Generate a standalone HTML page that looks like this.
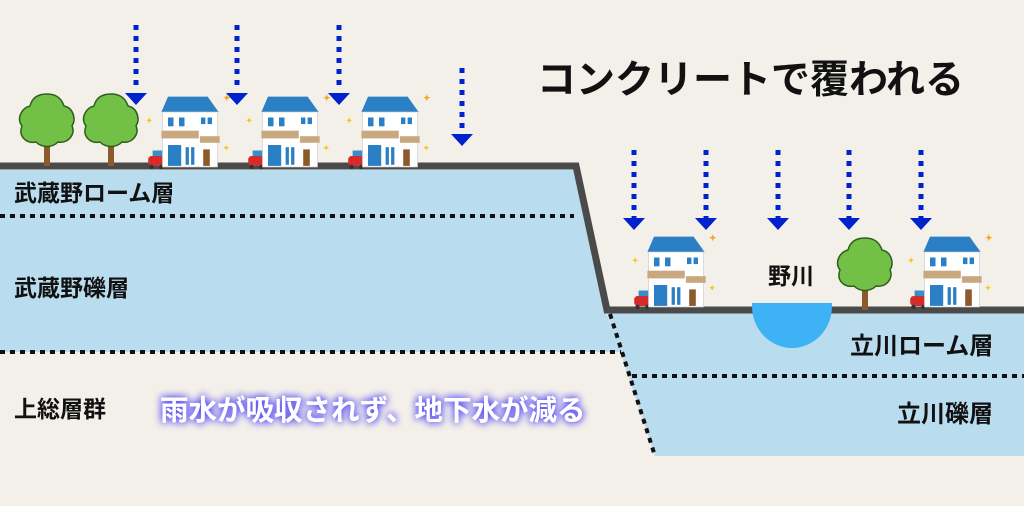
<!DOCTYPE html>
<html><head><meta charset="utf-8"><style>
body{margin:0;background:#f3f0ea;}
svg{display:block}
text{font-family:"Liberation Sans","Noto Sans CJK JP",sans-serif;font-weight:bold}
</style></head><body>
<svg width="1024" height="506" viewBox="0 0 1024 506" xmlns="http://www.w3.org/2000/svg">
<defs>
<filter id="glow" x="-20%" y="-60%" width="140%" height="220%"><feGaussianBlur in="SourceAlpha" stdDeviation="4" result="b"/><feFlood flood-color="#5a4cf5"/><feComposite in2="b" operator="in" result="c"/><feMerge><feMergeNode in="c"/><feMergeNode in="c"/><feMergeNode in="SourceGraphic"/></feMerge></filter>
<g id="house">
<rect x="6" y="55" width="16" height="14" fill="#3a8ec8"/>
<rect x="2" y="60" width="14" height="9" rx="3" fill="#d62b2b"/>
<circle cx="5" cy="70" r="2" fill="#333"/><circle cx="14" cy="70" r="2" fill="#333"/>
<polygon points="14,20 20,6 56,6 66,20" fill="#2b7fc4"/>
<rect x="15" y="20" width="50" height="50" fill="#fff" stroke="#ccc" stroke-width="0.6"/>
<rect x="20" y="25" width="5" height="8" fill="#2b7fc4"/><rect x="30" y="25" width="5" height="8" fill="#2b7fc4"/><rect x="50" y="25" width="4" height="6" fill="#2b7fc4"/><rect x="56" y="25" width="4" height="6" fill="#2b7fc4"/>
<rect x="14" y="37" width="34" height="7" fill="#c9a880"/><rect x="49" y="42" width="18" height="6" fill="#c9a880"/>
<rect x="20" y="50" width="12" height="19" fill="#2b7fc4"/><rect x="36" y="52" width="3" height="16" fill="#2b7fc4"/><rect x="41" y="52" width="3" height="16" fill="#2b7fc4"/>
<rect x="52" y="54" width="6" height="15" fill="#8b5a2b"/>
<text x="70" y="10" font-size="8" fill="#f5a623">✦</text><text x="0" y="30" font-size="7" fill="#f5c518">✦</text><text x="70" y="55" font-size="7" fill="#f5c518">✦</text>
</g>
<g id="tree">
<rect x="26" y="40" width="6" height="34" fill="#8b5a2b"/>
<path d="M29 55 L18 44 M29 52 L40 42" stroke="#8b5a2b" stroke-width="3"/>
<path d="M29 2 C40 2 44 8 46 14 C56 16 58 28 54 34 C58 42 50 52 40 50 C34 56 24 56 18 50 C8 52 0 44 4 34 C-2 26 4 16 12 14 C14 6 20 2 29 2Z" fill="#72c045" stroke="#2e5e1e" stroke-width="1.5"/>
</g>
<g id="arrowhead"><polygon points="-11,0 11,0 0,12" fill="#0022cc"/></g>
</defs>

<polygon points="0,170 577,170 606,312 621,352 0,352" fill="#b9dcee"/>
<polygon points="607,312 1024,312 1024,456 655,456" fill="#b9dcee"/>
<polyline points="0,166 576,166 607,310 1024,310" fill="none" stroke="#4a4a4a" stroke-width="7"/>
<path d="M752 306 A40 42 0 0 0 832 306 Z" fill="#3db3f5"/>
<rect x="752" y="303" width="80" height="4" fill="#3db3f5"/>
<g stroke="#111" stroke-width="4" stroke-dasharray="5,5" fill="none">
<line x1="0" y1="216" x2="574" y2="216"/>
<line x1="0" y1="352" x2="621" y2="352"/>
<line x1="610" y1="314" x2="655" y2="456"/>
<line x1="632" y1="376" x2="1024" y2="376"/>
</g>
<g stroke="#0022cc" stroke-width="5" stroke-dasharray="5,6">
<line x1="136" y1="25" x2="136" y2="90"/>
<line x1="237" y1="25" x2="237" y2="90"/>
<line x1="339" y1="25" x2="339" y2="90"/>
<line x1="462" y1="68" x2="462" y2="135"/>
<line x1="634" y1="150" x2="634" y2="218"/>
<line x1="706" y1="150" x2="706" y2="218"/>
<line x1="778" y1="150" x2="778" y2="218"/>
<line x1="849" y1="150" x2="849" y2="218"/>
<line x1="921" y1="150" x2="921" y2="218"/>
</g>
<use href="#arrowhead" x="136" y="93"/><use href="#arrowhead" x="237" y="93"/><use href="#arrowhead" x="339" y="93"/><use href="#arrowhead" x="462" y="134"/>
<use href="#arrowhead" x="634" y="218"/><use href="#arrowhead" x="706" y="218"/><use href="#arrowhead" x="778" y="218"/><use href="#arrowhead" x="849" y="218"/><use href="#arrowhead" x="921" y="218"/>
<use href="#tree" x="18" y="92"/><use href="#tree" x="82" y="92"/>
<g transform="translate(146,90) scale(1.1)"><use href="#house"/></g>
<g transform="translate(246,90) scale(1.1)"><use href="#house"/></g>
<g transform="translate(346,90) scale(1.1)"><use href="#house"/></g>
<g transform="translate(632,230) scale(1.1)"><use href="#house"/></g>
<g transform="translate(908,230) scale(1.1)"><use href="#house"/></g>
<use href="#tree" x="836" y="236"/>
<text x="537" y="93" font-size="39" fill="#111">コンクリートで覆われる</text>
<text x="14" y="201" font-size="23" fill="#111">武蔵野ローム層</text>
<text x="14" y="296" font-size="23" fill="#111">武蔵野礫層</text>
<text x="14" y="417" font-size="23" fill="#111">上総層群</text>
<text x="160" y="420" font-size="28.5" fill="#fff" filter="url(#glow)">雨水が吸収されず、地下水が減る</text>
<text x="768" y="284" font-size="23" fill="#111">野川</text>
<text x="850" y="354" font-size="24" fill="#111">立川ローム層</text>
<text x="897" y="422" font-size="24" fill="#111">立川礫層</text>
</svg>
</body></html>
